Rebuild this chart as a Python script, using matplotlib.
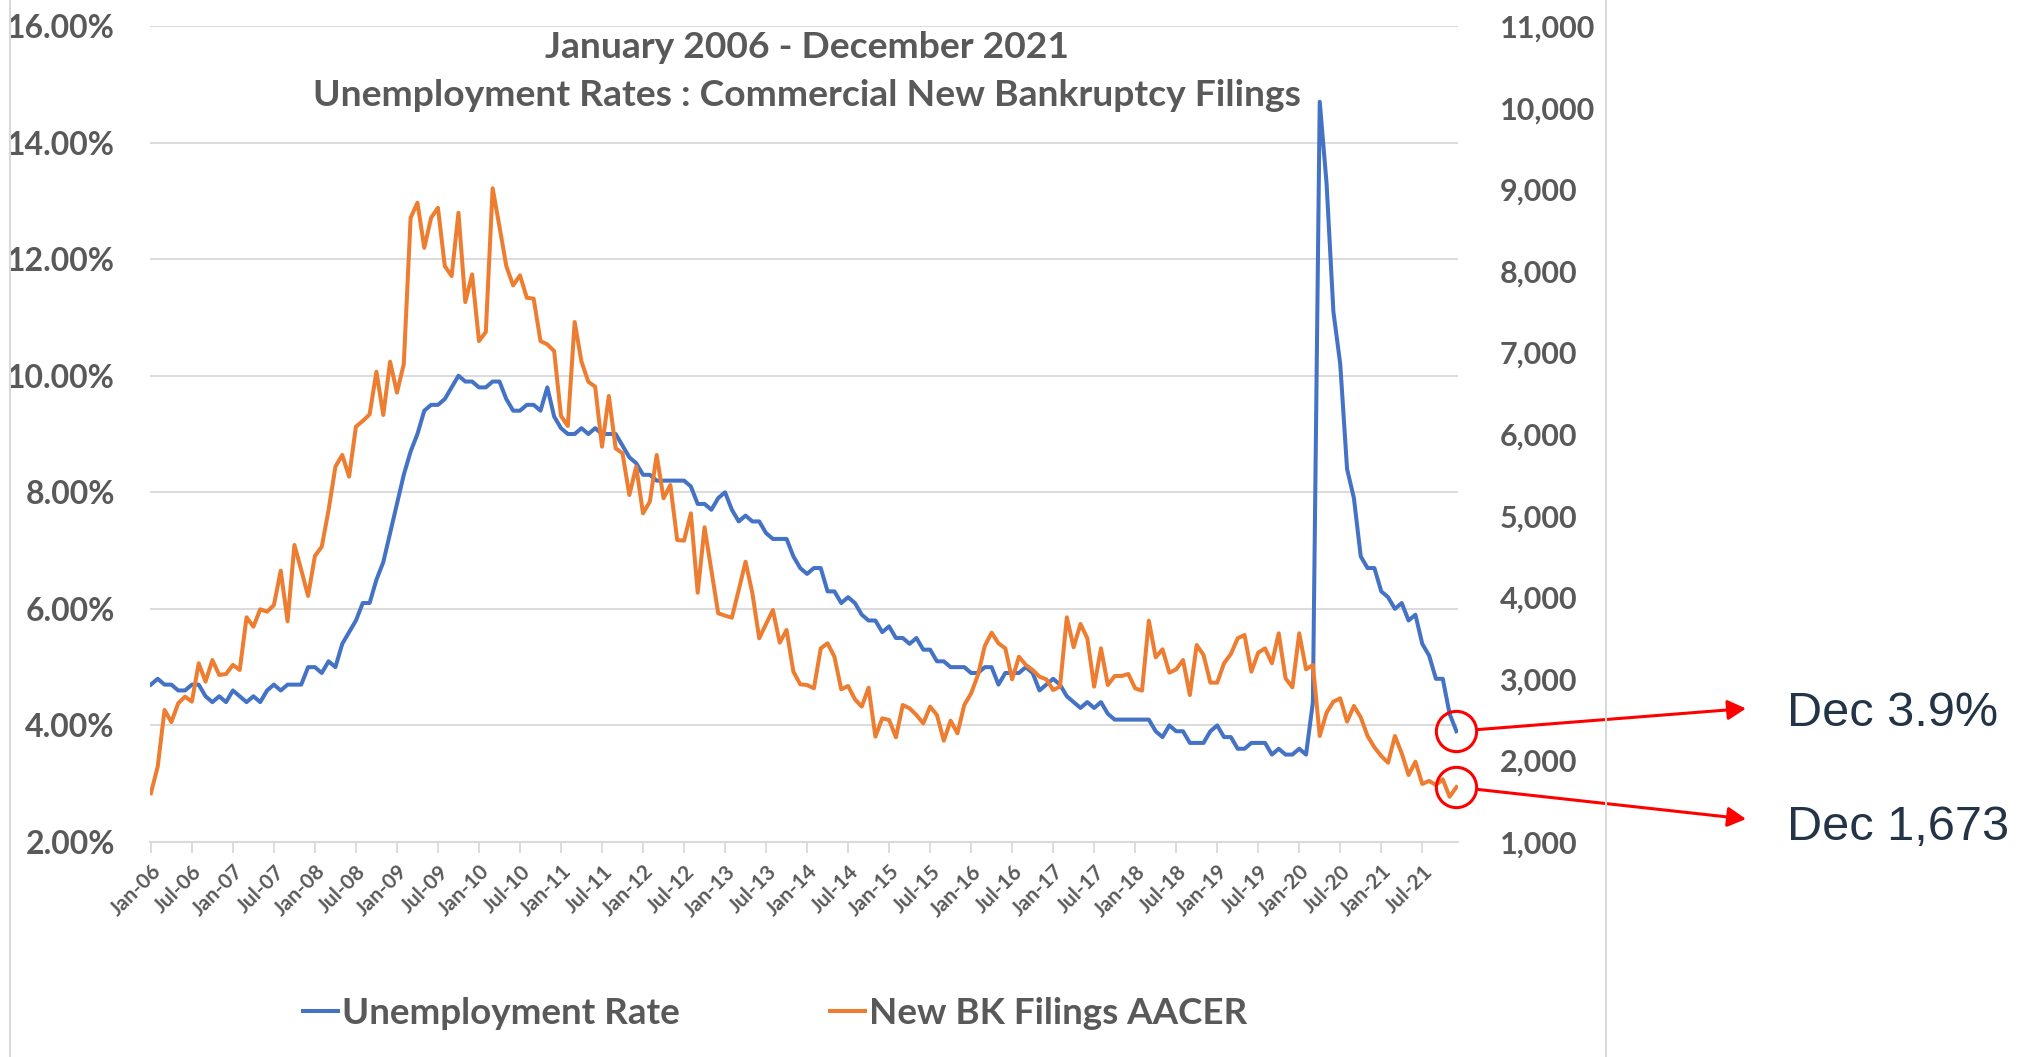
import matplotlib
matplotlib.use("Agg")
import matplotlib.pyplot as plt
import numpy as np
from matplotlib.lines import Line2D
from matplotlib.ticker import FuncFormatter

# monthly values Jan-06 .. Dec-21
unemployment = [
    4.7, 4.8, 4.7, 4.7, 4.6, 4.6, 4.7, 4.7, 4.5, 4.4, 4.5, 4.4,
    4.6, 4.5, 4.4, 4.5, 4.4, 4.6, 4.7, 4.6, 4.7, 4.7, 4.7, 5.0,
    5.0, 4.9, 5.1, 5.0, 5.4, 5.6, 5.8, 6.1, 6.1, 6.5, 6.8, 7.3,
    7.8, 8.3, 8.7, 9.0, 9.4, 9.5, 9.5, 9.6, 9.8, 10.0, 9.9, 9.9,
    9.8, 9.8, 9.9, 9.9, 9.6, 9.4, 9.4, 9.5, 9.5, 9.4, 9.8, 9.3,
    9.1, 9.0, 9.0, 9.1, 9.0, 9.1, 9.0, 9.0, 9.0, 8.8, 8.6, 8.5,
    8.3, 8.3, 8.2, 8.2, 8.2, 8.2, 8.2, 8.1, 7.8, 7.8, 7.7, 7.9,
    8.0, 7.7, 7.5, 7.6, 7.5, 7.5, 7.3, 7.2, 7.2, 7.2, 6.9, 6.7,
    6.6, 6.7, 6.7, 6.3, 6.3, 6.1, 6.2, 6.1, 5.9, 5.8, 5.8, 5.6,
    5.7, 5.5, 5.5, 5.4, 5.5, 5.3, 5.3, 5.1, 5.1, 5.0, 5.0, 5.0,
    4.9, 4.9, 5.0, 5.0, 4.7, 4.9, 4.9, 4.9, 5.0, 4.9, 4.6, 4.7,
    4.8, 4.7, 4.5, 4.4, 4.3, 4.4, 4.3, 4.4, 4.2, 4.1, 4.1, 4.1,
    4.1, 4.1, 4.1, 3.9, 3.8, 4.0, 3.9, 3.9, 3.7, 3.7, 3.7, 3.9,
    4.0, 3.8, 3.8, 3.6, 3.6, 3.7, 3.7, 3.7, 3.5, 3.6, 3.5, 3.5,
    3.6, 3.5, 4.4, 14.7, 13.3, 11.1, 10.2, 8.4, 7.9, 6.9, 6.7, 6.7,
    6.3, 6.2, 6.0, 6.1, 5.8, 5.9, 5.4, 5.2, 4.8, 4.8, 4.2, 3.9,
]

bk_filings = [
    1597, 1923, 2618, 2470, 2700, 2781, 2720, 3190, 2965, 3230, 3047, 3059,
    3170, 3108, 3754, 3639, 3852, 3822, 3904, 4325, 3705, 4640, 4333, 4015,
    4505, 4619, 5069, 5600, 5743, 5477, 6090, 6160, 6240, 6763, 6233, 6886,
    6507, 6857, 8650, 8834, 8282, 8650, 8772, 8058, 7936, 8711, 7617, 7956,
    7139, 7250, 9011, 8541, 8058, 7821, 7944, 7670, 7658, 7139, 7098, 7016,
    6221, 6098, 7372, 6886, 6640, 6580, 5845, 6466, 5824, 5763, 5252, 5600,
    5028, 5171, 5743, 5212, 5375, 4701, 4693, 5028, 4055, 4857, 4333, 3803,
    3774, 3749, 4088, 4435, 4048, 3496, 3672, 3843, 3443, 3598, 3087, 2932,
    2924, 2883, 3373, 3435, 3271, 2871, 2912, 2749, 2659, 2891, 2291, 2516,
    2495, 2283, 2679, 2638, 2556, 2454, 2659, 2556, 2242, 2487, 2332, 2679,
    2822, 3047, 3402, 3565, 3435, 3373, 2994, 3271, 3170, 3108, 3026, 2994,
    2863, 2904, 3753, 3386, 3672, 3496, 2904, 3373, 2924, 3034, 3034, 3059,
    2883, 2855, 3712, 3263, 3361, 3075, 3116, 3230, 2801, 3414, 3292, 2953,
    2953, 3190, 3304, 3496, 3537, 3087, 3320, 3373, 3190, 3557, 3006, 2895,
    3557, 3116, 3169, 2299, 2585, 2720, 2761, 2475, 2667, 2528, 2299, 2160,
    2054, 1972, 2299, 2087, 1821, 1984, 1711, 1748, 1699, 1768, 1555, 1673,
]

tick_labels = [f"{m}-{y:02d}" for y in range(6, 22) for m in ("Jan", "Jul")]
callouts = ["Dec 3.9%", "Dec 1,673"]

BLUE = "#4472C4"
ORANGE = "#ED7D31"
GREY = "#595959"
GRID = "#d9d9d9"

W, H = 2031, 1057
plt.rcParams["font.family"] = ["Lato", "DejaVu Sans"]
plt.rcParams["font.weight"] = "bold"


def fx(px):
    return px / W


def fy(py):
    return 1 - py / H


fig = plt.figure(figsize=(W / 100, H / 100), dpi=100)
left, right, top, bottom = 149.5, 1457.8, 26, 842
ax = fig.add_axes([fx(left), fy(bottom), fx(right - left), (bottom - top) / H])
ax2 = ax.twinx()

x = np.arange(len(unemployment))
ax.plot(x, unemployment, color=BLUE, lw=2.9, solid_joinstyle="round")
ax2.plot(x, bk_filings, color=ORANGE, lw=2.9, solid_joinstyle="round")

ax.set_xlim(-0.2, len(x) - 0.8)
ax.set_ylim(2, 16)
ax.set_yticks(np.arange(2, 17, 2))
ax.yaxis.set_major_formatter(FuncFormatter(lambda v, p: f"{v:.2f}%"))
ax2.set_ylim(1000, 11000)
ax2.set_yticks(np.arange(1000, 11001, 1000))
ax2.yaxis.set_major_formatter(FuncFormatter(lambda v, p: f"{v:,.0f}"))

ax.grid(axis="y", color=GRID, lw=1.3)
ax.set_axisbelow(True)
for s in ["left", "right", "top"]:
    ax.spines[s].set_visible(False)
ax.spines["bottom"].set_color(GRID)
ax.spines["bottom"].set_linewidth(1.5)
for s in ax2.spines.values():
    s.set_visible(False)

ax.tick_params(axis="y", length=0, pad=25, labelsize=23, labelcolor=GREY)
ax2.tick_params(axis="y", length=0, pad=30, labelsize=22, labelcolor=GREY)
ax.set_xticks(x[::6])
ax.set_xticklabels(tick_labels, rotation=45, ha="right", rotation_mode="anchor")
ax.tick_params(axis="x", length=8, width=1.3, color=GRID, pad=6,
               labelsize=15, labelcolor=GREY)

# title sits inside the plot area
fig.text(fx(807), fy(47), "January 2006 - December 2021", ha="center", va="center",
         fontsize=26.8, color=GREY)
fig.text(fx(807), fy(96), "Unemployment Rates : Commercial New Bankruptcy Filings",
         ha="center", va="center", fontsize=26.8, color=GREY)

handles = [Line2D([], [], color=BLUE, lw=2.9), Line2D([], [], color=ORANGE, lw=2.9)]
fig.legend(handles, ["Unemployment Rate", "New BK Filings AACER"], loc="center",
           bbox_to_anchor=(fx(775), fy(1013)), ncol=2, frameon=False, fontsize=26.5,
           labelcolor=GREY, handlelength=0.95, handletextpad=0.1, columnspacing=4.1)

# red circles + arrows to the December call-outs
ax.plot(x[-1], unemployment[-1], "o", ms=29, mfc="none", mec="red", mew=2.2, clip_on=False)
ax2.plot(x[-1], bk_filings[-1], "o", ms=29, mfc="none", mec="red", mew=2.2, clip_on=False)
arrow = dict(arrowstyle="-|>,head_length=1.1,head_width=0.6", color="red", lw=2.2,
             shrinkA=15, shrinkB=0, mutation_scale=10)
ax.annotate("", xy=(fx(1746), fy(708.5)), xycoords="figure fraction",
            xytext=(x[-1], unemployment[-1]), textcoords="data", arrowprops=arrow)
ax2.annotate("", xy=(fx(1746), fy(819)), xycoords="figure fraction",
             xytext=(x[-1], bk_filings[-1]), textcoords="data", arrowprops=arrow)
fig.text(fx(1787), fy(726), callouts[0], ha="left", va="baseline", fontsize=35,
         family="Liberation Sans", fontweight="normal", color="#243447")
fig.text(fx(1787), fy(840), callouts[1], ha="left", va="baseline", fontsize=35,
         family="Liberation Sans", fontweight="normal", color="#243447")

# outer chart frame edges
for px in (10, 1606):
    fig.add_artist(Line2D([fx(px), fx(px)], [0, 1], transform=fig.transFigure,
                          color=GRID, lw=1.5))

fig.savefig("out.png", dpi=100)
